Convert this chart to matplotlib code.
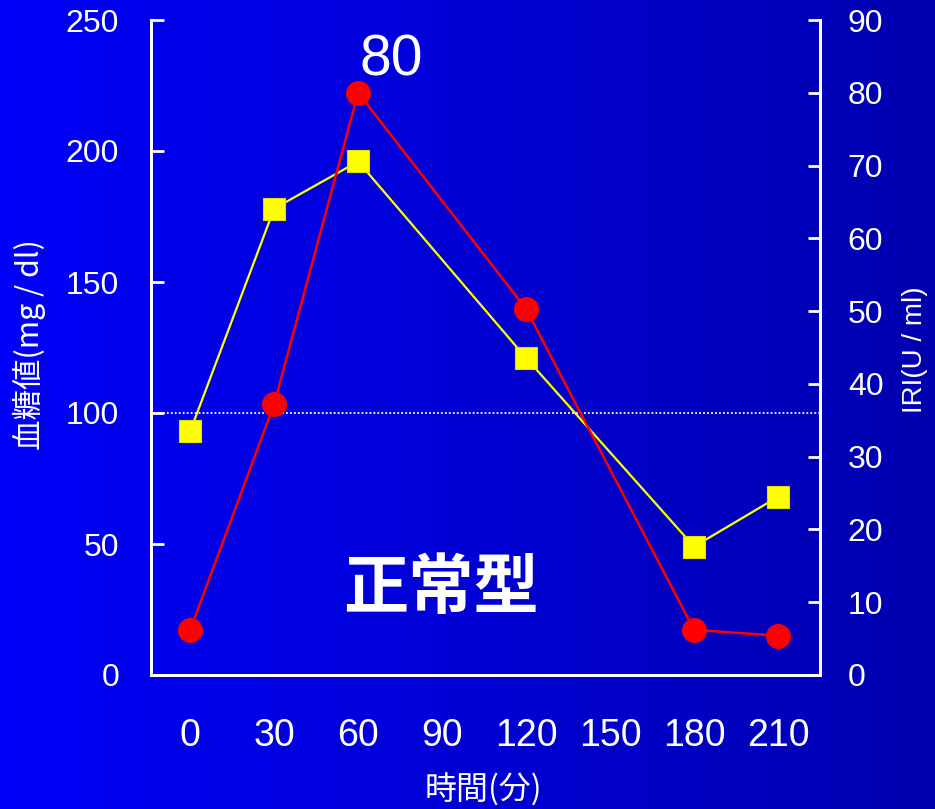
import numpy as np
import matplotlib
matplotlib.use("Agg")
import matplotlib.pyplot as plt

# 経口ブドウ糖負荷試験 (正常型)
minutes = [0, 30, 60, 120, 180, 210]
glucose = [93, 178, 196, 121, 49, 68]      # 血糖値 mg/dl
iri = [6.2, 37.2, 80, 50.3, 6.2, 5.4]      # IRI U/ml
x_ticks = [0, 30, 60, 90, 120, 150, 180, 210]
left_ticks = [0, 50, 100, 150, 200, 250]
right_ticks = [0, 10, 20, 30, 40, 50, 60, 70, 80, 90]
peak_idx = 2

num_font = ["Liberation Sans", "DejaVu Sans"]
jp_font = ["Noto Sans CJK JP", "Liberation Sans", "DejaVu Sans"]
narrow_font = ["Liberation Sans Narrow", "Liberation Sans", "DejaVu Sans"]

fig = plt.figure(figsize=(9.35, 8.09), dpi=100)

# background: horizontal blue gradient
bg = fig.add_axes([0, 0, 1, 1], zorder=-10)
grad = np.linspace(0, 1, 256).reshape(1, -1)
rgb = np.zeros((1, 256, 3))
rgb[..., 2] = (250 - 75 * grad) / 255
bg.imshow(rgb, aspect="auto", extent=[0, 1, 0, 1])
bg.axis("off")

ax = fig.add_axes([151 / 935, 1 - 675 / 809, (820 - 151) / 935, (675 - 20) / 809])
ax.patch.set_alpha(0)
ax2 = ax.twinx()

ax.set_xlim(-14, 225)
ax.set_ylim(0, 250)
ax2.set_ylim(0, 90)

ax.axhline(100, color="white", lw=1.3, ls=(0, (1, 1.2)), zorder=1)

ax.plot(minutes, glucose, color="#ffff00", lw=1.6, marker="s", ms=16.5,
        mfc="#ffff00", mec="#e0e000", mew=0.8, zorder=3)
ax2.plot(minutes, iri, color="#ff0000", lw=1.8, marker="o", ms=17,
         mfc="#ff0000", mec="#ff0000", zorder=3)

# peak value label
ax2.text(72, 84.5, f"{iri[peak_idx]:g}", color="white", fontsize=41,
         family=num_font, ha="center", va="center")
ax.text(89.5, 33.0, "正常型", color="white", fontsize=47, fontweight="bold",
        family=jp_font, ha="center", va="center")

for a in (ax, ax2):
    for s in a.spines.values():
        s.set_color("white")
        s.set_linewidth(2)
    a.spines["top"].set_visible(False)

ax.set_xticks(x_ticks)
ax.set_xticklabels([str(v) for v in x_ticks], family=narrow_font, fontsize=27)
ax.tick_params(axis="x", length=0, pad=31, colors="white")

ax.set_yticks(left_ticks)
ax.set_yticklabels([str(v) for v in left_ticks], family=num_font, fontsize=23)
ax.tick_params(axis="y", direction="in", length=9, width=2, pad=23, colors="white")

ax2.set_yticks(right_ticks)
ax2.set_yticklabels([str(v) for v in right_ticks], family=num_font, fontsize=23)
ax2.tick_params(axis="y", direction="in", length=9, width=2, pad=20, colors="white")

fig.text(483 / 935, 1 - 790 / 809, "時間(分)", color="white", fontsize=23,
         family=jp_font, ha="center", va="center")
fig.text(29 / 935, 1 - 345 / 809, "血糖値(mg / dl)", color="white", fontsize=22,
         family=jp_font, ha="center", va="center", rotation=90)
fig.text(915 / 935, 1 - 350 / 809, "IRI(U / ml)", color="white", fontsize=20,
         family=num_font, ha="center", va="center", rotation=90)

fig.savefig("out.png", dpi=100)
